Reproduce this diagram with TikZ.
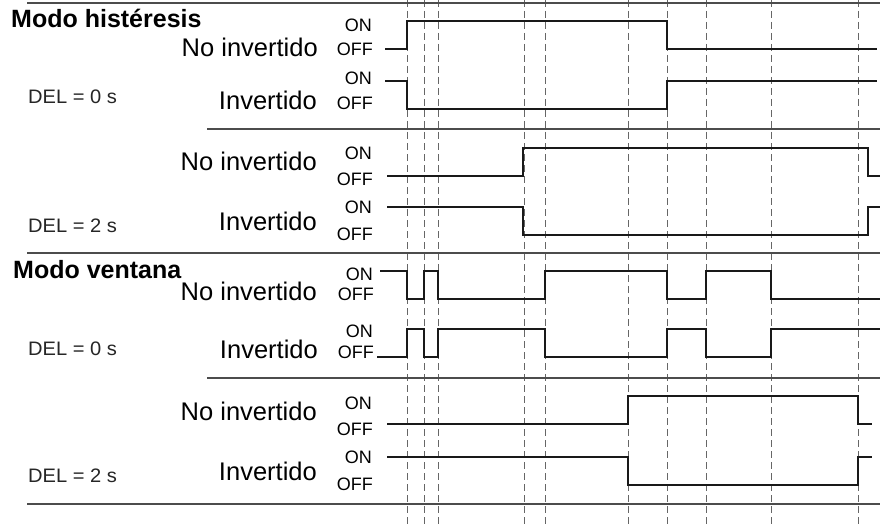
\documentclass[tikz,border=0pt]{standalone}
\usepackage{fontspec}
\setmainfont{Liberation Sans}
\newfontfamily\titlefont{Liberation Sans Bold}
\newfontfamily\labfont{Liberation Sans}
\newfontfamily\lvlfont{Liberation Sans}
\newfontfamily\delfont{Liberation Sans}[FakeStretch=1.03]
\begin{document}
\begin{tikzpicture}[x=1pt,y=-1pt,
  sig/.style={line width=2.1pt, color=black!90, line join=miter},
  sepline/.style={line width=1.2pt, color=black!70},
  gridline/.style={line width=0.9pt, color=black!60, dash pattern=on 7pt off 4pt},
  title/.style={anchor=base west, inner sep=0, font=\titlefont\fontsize{25}{29}\selectfont},
  lab/.style={anchor=base east, inner sep=0, font=\labfont\fontsize{25.5}{29}\selectfont},
  lvl/.style={anchor=base east, inner sep=0, font=\lvlfont\fontsize{18}{21}\selectfont},
  del/.style={anchor=base west, inner sep=0, font=\delfont\fontsize{19.5}{23}\selectfont, text=black!85}]
\useasboundingbox (0,0) rectangle (880,524);
\fill[white] (0,0) rectangle (880,524);

% time grid
\foreach \gx in {407,424,438,524,545,628,667,706,771,858}
  \draw[gridline] (\gx,0) -- (\gx,524);

% separators
\draw[sepline] (27,3) -- (880,3);
\draw[sepline] (207,129) -- (880,129);
\draw[sepline] (27,253) -- (880,253);
\draw[sepline] (207,378) -- (880,378);
\draw[sepline] (27,504) -- (880,504);

% Hysteresis, DEL = 0 s
\node[title] (t1) at (11,28) {Modo histéresis};
\node[lab] (h0ni) at (318,57) {No invertido};
\node[lvl] (h0nion) at (372,32) {ON};
\node[lvl] (h0nioff) at (373,56) {OFF};
\node[lab] (h0i) at (317,110) {Invertido};
\node[lvl] (h0ion) at (372,85) {ON};
\node[lvl] (h0ioff) at (373,110) {OFF};
\node[del] (d1) at (28,103) {DEL = 0 s};
\draw[sig] (385,49) -| (407,21) -| (667,49) -- (877,49);
\draw[sig] (385,81) -| (407,109) -| (667,81) -- (877,81);

% Hysteresis, DEL = 2 s
\node[lab] (h2ni) at (317,170) {No invertido};
\node[lvl] (h2nion) at (372,159) {ON};
\node[lvl] (h2nioff) at (373,185) {OFF};
\node[lab] (h2i) at (317,230) {Invertido};
\node[lvl] (h2ion) at (372,213) {ON};
\node[lvl] (h2ioff) at (373,240) {OFF};
\node[del] (d2) at (28,232) {DEL = 2 s};
\draw[sig] (387,176) -| (523,148) -| (868,176) -- (880,176);
\draw[sig] (387,207) -| (523,235) -| (868,207) -- (880,207);

% Window, DEL = 0 s
\node[title] (t2) at (13,278) {Modo ventana};
\node[lab] (w0ni) at (317,300) {No invertido};
\node[lvl] (w0nion) at (373,280) {ON};
\node[lvl] (w0nioff) at (374,300) {OFF};
\node[lab] (w0i) at (318,358) {Invertido};
\node[lvl] (w0ion) at (373,337) {ON};
\node[lvl] (w0ioff) at (374,358) {OFF};
\node[del] (d3) at (28,355) {DEL = 0 s};
\draw[sig] (380,271) -| (407,299) -| (424,271) -| (438,299) -| (545,271) -| (667,299) -| (706,271) -| (771,299) -- (880,299);
\draw[sig] (377,357) -| (407,329) -| (424,357) -| (438,329) -| (545,357) -| (667,329) -| (706,357) -| (771,329) -- (880,329);

% Window, DEL = 2 s
\node[lab] (w2ni) at (317,420) {No invertido};
\node[lvl] (w2nion) at (372,409) {ON};
\node[lvl] (w2nioff) at (373,435) {OFF};
\node[lab] (w2i) at (317,480) {Invertido};
\node[lvl] (w2ion) at (372,463) {ON};
\node[lvl] (w2ioff) at (373,490) {OFF};
\node[del] (d4) at (28,482) {DEL = 2 s};
\draw[sig] (387,424) -| (628,396) -| (858,424) -- (872,424);
\draw[sig] (387,457) -| (628,485) -| (858,457) -- (872,457);
\end{tikzpicture}
\end{document}
